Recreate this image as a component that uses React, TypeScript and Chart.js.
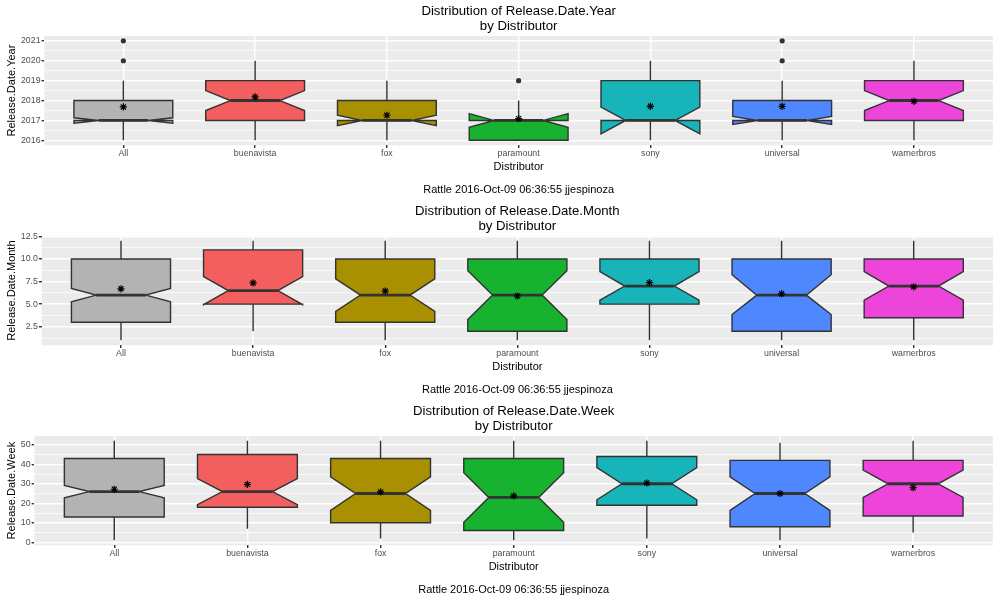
import React, { useEffect, useRef } from 'react';
import { Chart, registerables } from 'chart.js';

Chart.register(...registerables);

const FONT = '"Liberation Sans", Arial, Helvetica, sans-serif';

// ---------------- data ----------------
const categories = ['All', 'buenavista', 'fox', 'paramount', 'sony', 'universal', 'warnerbros'];
const fillColors = ['#B3B3B3', '#F35F5F', '#A89000', '#17B22F', '#17B4B9', '#4F87FF', '#ED45DA'];
const xAxisTitle = 'Distributor';
const caption = 'Rattle 2016-Oct-09 06:36:55 jjespinoza';

// Release.Date.Year
const yearLowerWhisker = [2016, 2016, 2016, 2016, 2016, 2016, 2016];
const yearQ1 = [2017, 2017, 2017, 2016, 2017, 2017, 2017];
const yearMedian = [2017, 2018, 2017, 2017, 2017, 2017, 2018];
const yearQ3 = [2018, 2019, 2018, 2017, 2019, 2018, 2019];
const yearUpperWhisker = [2019, 2020, 2019, 2018, 2020, 2019, 2020];
const yearNotchLow = [2016.865, 2017.5, 2016.74, 2016.66, 2016.33, 2016.8, 2017.5];
const yearNotchHigh = [2017.135, 2018.5, 2017.26, 2017.34, 2017.67, 2017.2, 2018.5];
const yearMean = [2017.68, 2018.18, 2017.26, 2017.09, 2017.71, 2017.71, 2017.96];
const yearOutliers = [[2020, 2021], [], [], [2019], [], [2020, 2021], []];
const yearTicks = [2016, 2017, 2018, 2019, 2020, 2021];

// Release.Date.Month
const monthLowerWhisker = [1, 2, 1, 1, 1, 1, 1];
const monthQ1 = [3, 5, 3, 2, 5, 2, 3.5];
const monthMedian = [6, 6.5, 6, 6, 7, 6, 7];
const monthQ3 = [10, 11, 10, 10, 10, 10, 10];
const monthUpperWhisker = [12, 12, 12, 12, 12, 12, 12];
const monthNotchLow = [5.25, 4.94, 4.2, 3.3, 5.45, 3.85, 5.45];
const monthNotchHigh = [6.75, 8.06, 7.8, 8.7, 8.6, 8.25, 8.6];
const monthMean = [6.7, 7.35, 6.45, 5.9, 7.38, 6.15, 6.92];
const monthOutliers = [[], [], [], [], [], [], []];
const monthTicks = [2.5, 5, 7.5, 10, 12.5];

// Release.Date.Week
const weekLowerWhisker = [1, 7, 2, 1, 2, 1, 5];
const weekQ1 = [13, 18, 10, 6, 19, 8, 13.5];
const weekMedian = [26, 26, 25, 23, 30, 25, 30];
const weekQ3 = [43, 45, 43, 43, 44, 42, 42];
const weekUpperWhisker = [52, 52, 52, 52, 52, 51, 52];
const weekNotchLow = [22.8, 19.3, 16.4, 10.3, 21.8, 16.4, 23];
const weekNotchHigh = [29.2, 32.7, 33.6, 35.7, 38.3, 33.6, 37];
const weekMean = [27.2, 29.7, 25.8, 23.8, 30.4, 25, 28];
const weekOutliers = [[], [], [], [], [], [], []];
const weekTicks = [0, 10, 20, 30, 40, 50];

type PanelDef = {
  variable: string;
  lower: number[];
  q1: number[];
  median: number[];
  q3: number[];
  upper: number[];
  notchLow: number[];
  notchHigh: number[];
  mean: number[];
  outliers: number[][];
  ticks: number[];
  min: number;
  max: number;
  fmt: (v: number) => string;
  left: number;
};

const panels: PanelDef[] = [
  {
    variable: 'Release.Date.Year',
    lower: yearLowerWhisker, q1: yearQ1, median: yearMedian, q3: yearQ3, upper: yearUpperWhisker,
    notchLow: yearNotchLow, notchHigh: yearNotchHigh, mean: yearMean, outliers: yearOutliers,
    ticks: yearTicks, min: 2015.75, max: 2021.25, fmt: (v) => String(v), left: 44.3,
  },
  {
    variable: 'Release.Date.Month',
    lower: monthLowerWhisker, q1: monthQ1, median: monthMedian, q3: monthQ3, upper: monthUpperWhisker,
    notchLow: monthNotchLow, notchHigh: monthNotchHigh, mean: monthMean, outliers: monthOutliers,
    ticks: monthTicks, min: 0.45, max: 12.55, fmt: (v) => v.toFixed(1), left: 41.7,
  },
  {
    variable: 'Release.Date.Week',
    lower: weekLowerWhisker, q1: weekQ1, median: weekMedian, q3: weekQ3, upper: weekUpperWhisker,
    notchLow: weekNotchLow, notchHigh: weekNotchHigh, mean: weekMean, outliers: weekOutliers,
    ticks: weekTicks, min: -1.55, max: 54.55, fmt: (v) => String(v), left: 34.4,
  },
];

const LINE = 1.42;
const OUTLINE = '#333333';
const PANEL_BG = '#EBEBEB';

function Panel({ def }: { def: PanelDef }) {
  const ref = useRef<HTMLCanvasElement | null>(null);

  useEffect(() => {
    if (!ref.current) return;
    const majors = def.ticks;
    const step = majors[1] - majors[0];
    const minors: number[] = [];
    for (let i = -1; i < majors.length; i++) {
      const m = majors[0] + step * i + step / 2;
      if (m > def.min && m < def.max) minors.push(m);
    }
    const allTicks = [...majors, ...minors].sort((a, b) => a - b);
    const isMajor = (v: number) => majors.some((m) => Math.abs(m - v) < 1e-9);

    const meanData = def.mean.map((m, i) => ({ x: i + 1, y: m }));
    const outlierData: { x: number; y: number }[] = [];
    def.outliers.forEach((arr, i) => arr.forEach((v) => outlierData.push({ x: i + 1, y: v })));

    const boxPlugin = {
      id: 'notchedBoxes',
      beforeDraw(chart: any) {
        const { ctx, chartArea } = chart;
        ctx.save();
        ctx.fillStyle = PANEL_BG;
        ctx.fillRect(chartArea.left, chartArea.top, chartArea.right - chartArea.left, chartArea.bottom - chartArea.top);
        ctx.restore();
      },
      beforeDatasetsDraw(chart: any) {
        const { ctx, chartArea } = chart;
        const xs = chart.scales.x;
        const ys = chart.scales.y;
        const X = (v: number) => xs.getPixelForValue(v);
        const Y = (v: number) => ys.getPixelForValue(v);
        const hw = 0.375;
        const ni = 0.1875;
        ctx.save();
        ctx.beginPath();
        ctx.rect(chartArea.left, chartArea.top, chartArea.right - chartArea.left, chartArea.bottom - chartArea.top);
        ctx.clip();
        ctx.lineCap = 'butt';
        ctx.lineJoin = 'miter';
        categories.forEach((_, i) => {
          const c = i + 1;
          ctx.strokeStyle = OUTLINE;
          ctx.lineWidth = LINE;
          // whiskers
          ctx.beginPath();
          ctx.moveTo(X(c), Y(def.q3[i]));
          ctx.lineTo(X(c), Y(def.upper[i]));
          ctx.moveTo(X(c), Y(def.q1[i]));
          ctx.lineTo(X(c), Y(def.lower[i]));
          ctx.stroke();
          // notched box
          const pts: [number, number][] = [
            [c - hw, def.q3[i]],
            [c - hw, def.notchHigh[i]],
            [c - hw + ni, def.median[i]],
            [c - hw, def.notchLow[i]],
            [c - hw, def.q1[i]],
            [c + hw, def.q1[i]],
            [c + hw, def.notchLow[i]],
            [c + hw - ni, def.median[i]],
            [c + hw, def.notchHigh[i]],
            [c + hw, def.q3[i]],
          ];
          ctx.beginPath();
          pts.forEach(([px, py], k) => {
            if (k === 0) ctx.moveTo(X(px), Y(py));
            else ctx.lineTo(X(px), Y(py));
          });
          ctx.closePath();
          ctx.fillStyle = fillColors[i];
          ctx.fill();
          ctx.stroke();
          // median
          ctx.lineWidth = LINE * 2;
          ctx.beginPath();
          ctx.moveTo(X(c - hw + ni), Y(def.median[i]));
          ctx.lineTo(X(c + hw - ni), Y(def.median[i]));
          ctx.stroke();
        });
        ctx.restore();
      },
    };

    const chart = new Chart(ref.current, {
      type: 'scatter',
      data: {
        datasets: [
          {
            label: 'mean',
            data: meanData,
            pointStyle: 'star',
            pointRadius: 3.6,
            pointBorderWidth: 1.2,
            pointBorderColor: '#000000',
            pointBackgroundColor: '#000000',
            borderColor: '#000000',
          } as any,
          {
            label: 'outliers',
            data: outlierData,
            pointStyle: 'circle',
            pointRadius: 2.6,
            pointBorderWidth: 0,
            pointBackgroundColor: OUTLINE,
            pointBorderColor: OUTLINE,
          } as any,
        ],
      },
      options: {
        responsive: false,
        animation: false,
        devicePixelRatio: 1,
        events: [],
        layout: { padding: { left: 0, right: 6, top: 0, bottom: 0 } },
        plugins: {
          legend: { display: false },
          tooltip: { enabled: false },
          title: {
            display: true,
            text: ['Distribution of ' + def.variable, 'by ' + xAxisTitle],
            color: '#000000',
            font: { family: FONT, size: 13.2, weight: 'normal', lineHeight: 1.14 },
            padding: { top: 3.5, bottom: 2.3 },
            fullSize: false,
          } as any,
        },
        scales: {
          x: {
            type: 'linear',
            min: 0.4,
            max: 7.6,
            afterBuildTicks: (s: any) => {
              s.ticks = categories.map((_, i) => ({ value: i + 1 }));
            },
            afterFit: (s: any) => {
              s.height = 54.7;
            },
            ticks: {
              autoSkip: false,
              maxRotation: 0,
              minRotation: 0,
              padding: 0.7,
              color: '#4D4D4D',
              font: { family: FONT, size: 8.8 },
              callback: (v: any) => categories[Math.round(Number(v)) - 1] ?? '',
            },
            grid: {
              color: '#FFFFFF',
              lineWidth: LINE,
              tickLength: 2.75,
              tickColor: OUTLINE,
              tickWidth: LINE,
            },
            border: { display: false },
            title: {
              display: true,
              text: [xAxisTitle, '', caption],
              color: '#000000',
              font: { family: FONT, size: 11, lineHeight: 1.06 },
              padding: { top: 0, bottom: 4.2 },
            },
          },
          y: {
            type: 'linear',
            min: def.min,
            max: def.max,
            afterBuildTicks: (s: any) => {
              s.ticks = allTicks.map((v) => ({ value: v }));
            },
            afterFit: (s: any) => {
              s.width = def.left;
            },
            ticks: {
              autoSkip: false,
              padding: 1,
              color: '#4D4D4D',
              font: { family: FONT, size: 8.8 },
              callback: (v: any) => (isMajor(Number(v)) ? def.fmt(Number(v)) : ''),
            },
            grid: {
              color: '#FFFFFF',
              lineWidth: (ctx: any) => (ctx.tick && isMajor(ctx.tick.value) ? LINE : LINE / 2),
              tickLength: 2.75,
              tickColor: (ctx: any) => (ctx.tick && isMajor(ctx.tick.value) ? OUTLINE : 'rgba(0,0,0,0)'),
              tickWidth: LINE,
            },
            border: { display: false },
            title: {
              display: true,
              text: def.variable,
              color: '#000000',
              font: { family: FONT, size: 11, lineHeight: 1.2 },
              padding: { top: 5, bottom: 0 },
            },
          },
        },
      } as any,
      plugins: [boxPlugin],
    });

    return () => chart.destroy();
  }, [def]);

  return <canvas ref={ref} width={999} height={200} style={{ display: 'block', width: 999, height: 200 }} />;
}

export default function App() {
  useEffect(() => {
    document.body.style.margin = '0';
    document.body.style.background = '#FFFFFF';
  }, []);
  return (
    <div style={{ width: 999, height: 600, background: '#FFFFFF' }}>
      {panels.map((p) => (
        <Panel key={p.variable} def={p} />
      ))}
    </div>
  );
}
